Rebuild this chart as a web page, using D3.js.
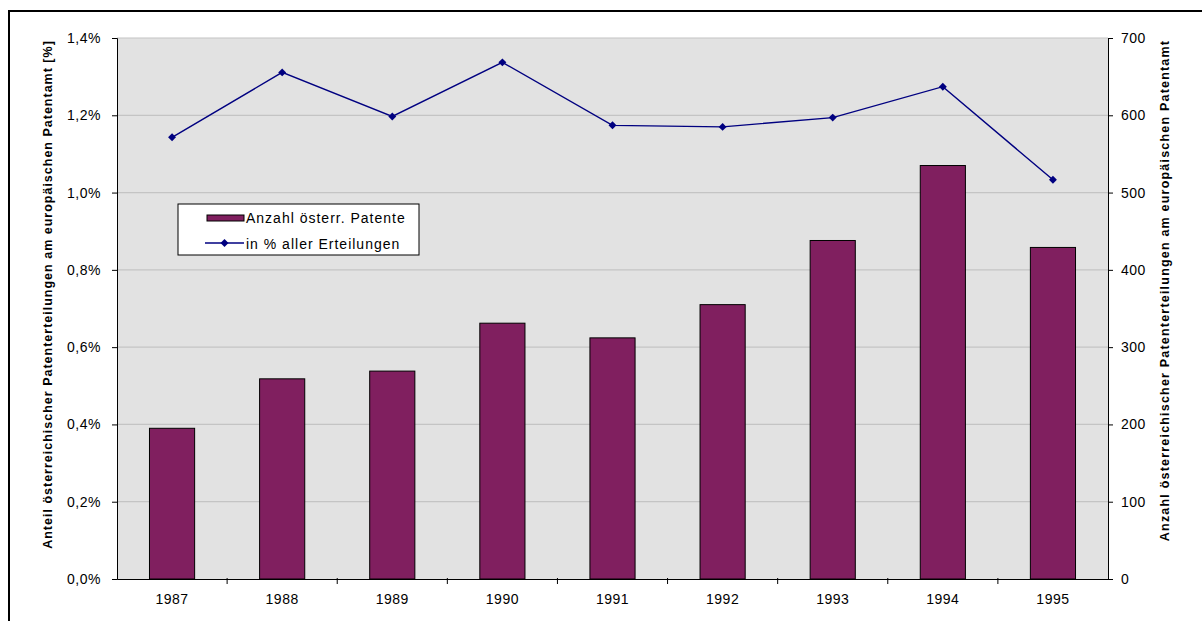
<!DOCTYPE html>
<html>
<head>
<meta charset="utf-8">
<script src="https://cdn.jsdelivr.net/npm/d3@7"></script>
<style>
    body { margin: 0; background: #fff; }
    text { font-family: "Liberation Sans", Arial, sans-serif; }
    .axis path, .axis line { stroke: #000; }
    .axis text { font-size: 14px; fill: #000; letter-spacing: 0.5px; }
</style>
</head>
<body>
<div id="chart-area"></div>
<script>
// data
const years = ["1987", "1988", "1989", "1990", "1991", "1992", "1993", "1994", "1995"];
const patents = [195, 259, 269, 331, 312, 355, 438, 535, 429];
const sharePct = [1.143, 1.311, 1.197, 1.337, 1.174, 1.170, 1.194, 1.274, 1.033];
const leftTicks = [0, 0.2, 0.4, 0.6, 0.8, 1.0, 1.2, 1.4];
const rightTicks = [0, 100, 200, 300, 400, 500, 600, 700];

const W = 1202, H = 621;
const margin = { top: 38, right: 94, bottom: 42, left: 117 };
const width = 1108 - margin.left;
const height = 579 - margin.top;

const svg = d3.select("#chart-area").append("svg")
    .attr("width", W)
    .attr("height", H);

// outer frame (runs off the bottom / right edge like the source)
svg.append("rect")
    .attr("x", 9).attr("y", 11)
    .attr("width", 1200).attr("height", 620)
    .attr("fill", "none")
    .attr("stroke", "#000")
    .attr("stroke-width", 2);

const g = svg.append("g")
    .attr("transform", `translate(${margin.left}, ${margin.top})`);

const x = d3.scaleBand()
    .domain(years)
    .range([0, width])
    .paddingInner(0.59)
    .paddingOuter(0.295);

const xc = d3.scaleBand().domain(years).range([0, width]);

const yL = d3.scaleLinear().domain([0, 1.4]).range([height, 0]);
const yR = d3.scaleLinear().domain([0, 700]).range([height, 0]);

// plot background
g.append("rect")
    .attr("width", width)
    .attr("height", height)
    .attr("fill", "#e2e2e2");

// gridlines
g.selectAll(".grid").data(leftTicks.slice(1))
    .enter().append("line")
    .attr("class", "grid")
    .attr("x1", 0).attr("x2", width)
    .attr("y1", d => yL(d)).attr("y2", d => yL(d))
    .attr("stroke", "#c4c4c4")
    .attr("stroke-width", 1.2);

// bars
g.selectAll(".bar").data(patents)
    .enter().append("rect")
    .attr("class", "bar")
    .attr("x", (d, i) => x(years[i]))
    .attr("y", d => yR(d))
    .attr("width", x.bandwidth())
    .attr("height", d => height - yR(d))
    .attr("fill", "#801f5f")
    .attr("stroke", "#000")
    .attr("stroke-width", 1);

// line
const line = d3.line()
    .x((d, i) => xc(years[i]) + xc.bandwidth() / 2)
    .y(d => yL(d));

g.append("path")
    .datum(sharePct)
    .attr("d", line)
    .attr("fill", "none")
    .attr("stroke", "#000080")
    .attr("stroke-width", 1.4);

const diamond = d3.symbol().type(d3.symbolDiamond2).size(40);
g.selectAll(".pt").data(sharePct)
    .enter().append("path")
    .attr("class", "pt")
    .attr("transform", (d, i) => `translate(${xc(years[i]) + xc.bandwidth() / 2}, ${yL(d)})`)
    .attr("d", diamond)
    .attr("fill", "#000080");

// axes
const fmtPct = d => d3.format(".1f")(d).replace(".", ",") + "%";

g.append("g")
    .attr("class", "axis")
    .call(d3.axisLeft(yL).tickValues(leftTicks).tickFormat(fmtPct).tickSizeOuter(0).tickSize(5).tickPadding(11));

g.append("g")
    .attr("class", "axis")
    .attr("transform", `translate(${width}, 0)`)
    .call(d3.axisRight(yR).tickValues(rightTicks).tickSizeOuter(0).tickSize(5).tickPadding(8));

const xAxis = g.append("g")
    .attr("class", "axis")
    .attr("transform", `translate(0, ${height})`)
    .call(d3.axisBottom(xc).tickSize(0).tickSizeOuter(0).tickPadding(15));

// category separator ticks on x axis
xAxis.selectAll(".sep").data(years.slice(1))
    .enter().append("line")
    .attr("class", "sep")
    .attr("x1", d => xc(d)).attr("x2", d => xc(d))
    .attr("y1", -1).attr("y2", 5)
    .attr("stroke", "#000");

// axis titles
g.append("text")
    .attr("transform", `translate(-65, ${height / 2 - 14}) rotate(-90)`)
    .attr("text-anchor", "middle")
    .attr("font-size", "12.5px")
    .attr("font-weight", "bold")
    .attr("letter-spacing", "1px")
    .text("Anteil österreichischer Patenterteilungen am europäischen Patentamt [%]");

g.append("text")
    .attr("transform", `translate(${width + 61}, ${height / 2 - 18}) rotate(-90)`)
    .attr("text-anchor", "middle")
    .attr("font-size", "12.5px")
    .attr("font-weight", "bold")
    .attr("letter-spacing", "1.2px")
    .text("Anzahl österreichischer Patenterteilungen am europäischen Patentamt");

// legend
const lg = svg.append("g").attr("transform", "translate(178, 204)");
lg.append("rect")
    .attr("width", 241).attr("height", 51)
    .attr("fill", "#fff")
    .attr("stroke", "#000");
lg.append("rect")
    .attr("x", 29).attr("y", 11)
    .attr("width", 37).attr("height", 6)
    .attr("fill", "#801f5f")
    .attr("stroke", "#000");
lg.append("text")
    .attr("x", 68).attr("y", 19)
    .attr("font-size", "14px")
    .attr("letter-spacing", "1px")
    .text("Anzahl österr. Patente");
lg.append("line")
    .attr("x1", 27).attr("x2", 66)
    .attr("y1", 39).attr("y2", 39)
    .attr("stroke", "#000080")
    .attr("stroke-width", 1.4);
lg.append("path")
    .attr("transform", "translate(46.5, 39)")
    .attr("d", diamond)
    .attr("fill", "#000080");
lg.append("text")
    .attr("x", 68).attr("y", 44.5)
    .attr("font-size", "14px")
    .attr("letter-spacing", "1px")
    .text("in % aller Erteilungen");
</script>
</body>
</html>
